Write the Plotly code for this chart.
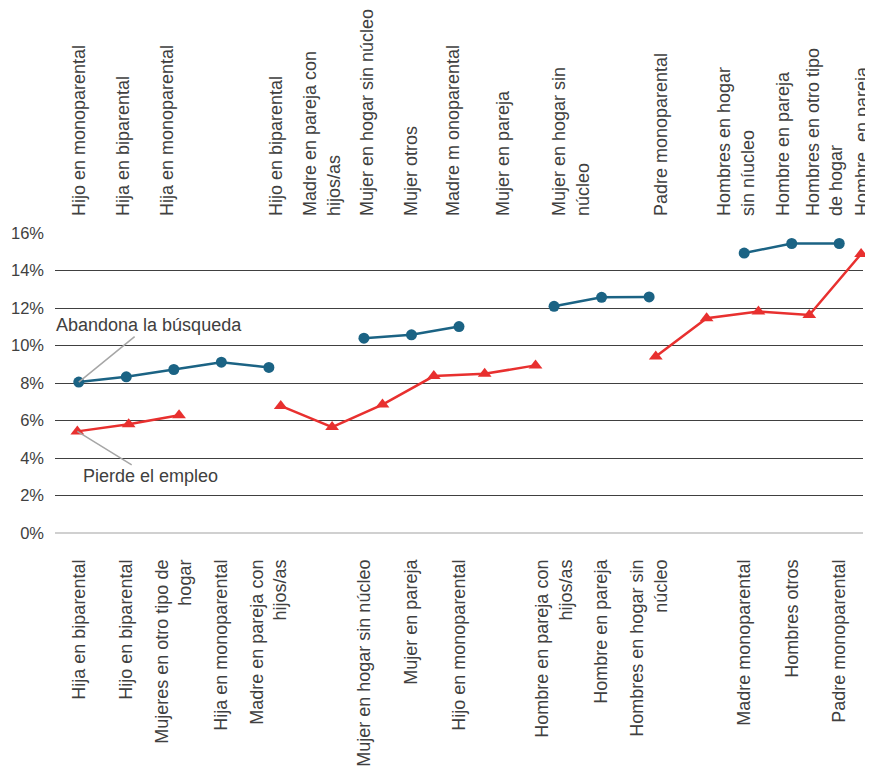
import plotly.graph_objects as go

# Bottom axis: 17 category slots, None = empty slot (gap between groups)
bottom_labels = ["Hija en biparental", "Hijo en biparental", "Mujeres en otro tipo de<br>hogar",
                 "Hija en monoparental", "Madre en pareja con<br>hijos/as", None,
                 "Mujer en hogar sin núcleo", "Mujer en pareja", "Hijo en monoparental", None,
                 "Hombre en pareja con<br>hijos/as", "Hombre en pareja", "Hombres en hogar sin<br>núcleo", None,
                 "Madre monoparental", "Hombres otros", "Padre monoparental"]

# Abandona la búsqueda (%), one per slot
abandona = [8.05, 8.33, 8.72, 9.11, 8.83, None,
            10.39, 10.57, 11.01, None,
            12.09, 12.57, 12.59, None,
            14.93, 15.44, 15.44]

# Top axis labels
top_labels = ["Hijo en monoparental", "Hija en biparental", "Hija en monoparental",
              "Hijo en biparental", "Madre en pareja con<br>hijos/as", "Mujer en hogar sin núcleo",
              "Mujer otros", "Madre m onoparental", "Mujer en pareja", "Mujer en hogar sin<br>núcleo",
              "Padre monoparental", "Hombres en hogar<br>sin níucleo", "Hombre en pareja",
              "Hombres en otro tipo<br>de hogar", "Hombre  en pareja"]

# Pierde el empleo (%), x in slot units of the top axis (None = break in the line)
pierde_x = [-0.03, 1.05, 2.11, None, 4.25, 5.33, 6.39, 7.47, 8.54, 9.61, None,
            12.14, 13.21, 14.30, 15.37, 16.46]
pierde = [5.42, 5.80, 6.28, None, 6.78, 5.65, 6.85, 8.37, 8.49, 8.94, None,
          9.41, 11.45, 11.81, 11.63, 14.88]

# where the top labels sit (slot units)
top_tick_pos = [0.0, 0.94, 1.85, 4.15, 5.12, 6.06, 6.99, 7.87, 8.92, 10.36,
                12.26, 13.83, 14.82, 15.69, 16.48]

FONT = "Liberation Sans, Arial, sans-serif"
TXT = "#404040"
BLUE = "#1b6384"
RED = "#e8302f"

slots = list(range(len(bottom_labels)))

fig = go.Figure()

fig.add_trace(go.Scatter(x=slots, y=abandona, mode="lines+markers",
                         line=dict(color=BLUE, width=2.5),
                         marker=dict(symbol="circle", size=11, color=BLUE),
                         connectgaps=False, cliponaxis=False,
                         xaxis="x", yaxis="y", name="Abandona la búsqueda"))

fig.add_trace(go.Scatter(x=pierde_x, y=pierde, mode="lines+markers",
                         line=dict(color=RED, width=2.5),
                         marker=dict(symbol="triangle-up", size=12, color=RED),
                         connectgaps=False, cliponaxis=False,
                         xaxis="x2", yaxis="y", name="Pierde el empleo"))

bottom_vals = [s for s, l in zip(slots, bottom_labels) if l is not None]
bottom_text = [l for l in bottom_labels if l is not None]

# the page body adds an 8px offset, margins compensate for it
fig.update_layout(
    width=873, height=768,
    margin=dict(l=47, r=18, t=225, b=243),
    plot_bgcolor="white", paper_bgcolor="white",
    showlegend=False,
    font=dict(family=FONT, color=TXT, size=18),
    xaxis=dict(range=[-0.5, 16.5], tickmode="array", tickvals=bottom_vals, ticktext=bottom_text,
               tickangle=-90, tickfont=dict(size=18, color=TXT), showgrid=False, zeroline=False,
               ticks="", ticklabelstandoff=22, automargin=False),
    xaxis2=dict(range=[-0.5, 16.5], overlaying="x", side="top", tickmode="array",
                tickvals=top_tick_pos, ticktext=top_labels, tickangle=-90,
                tickfont=dict(size=18, color=TXT), showgrid=False, zeroline=False,
                ticks="", ticklabelstandoff=16, automargin=False),
    yaxis=dict(range=[0, 16], dtick=2, ticksuffix="%", tickfont=dict(size=16.5, color=TXT),
               gridcolor="#404040", gridwidth=1.2, zeroline=True, zerolinecolor="#d0d0d0",
               zerolinewidth=1.5, ticks="", ticklabelstandoff=10, automargin=False),
)

fig.add_annotation(x=0, y=abandona[0], xref="x", yref="y", text="Abandona la búsqueda",
                   showarrow=True, arrowhead=0, arrowwidth=1.5, arrowcolor="#a6a6a6",
                   ax=70, ay=-57, font=dict(size=18, color=TXT))
fig.add_annotation(x=pierde_x[0], y=pierde[0], xref="x2", yref="y", text="Pierde el empleo",
                   showarrow=True, arrowhead=0, arrowwidth=1.5, arrowcolor="#a6a6a6",
                   ax=73, ay=45, font=dict(size=18, color=TXT))

fig.write_html("out.html")
